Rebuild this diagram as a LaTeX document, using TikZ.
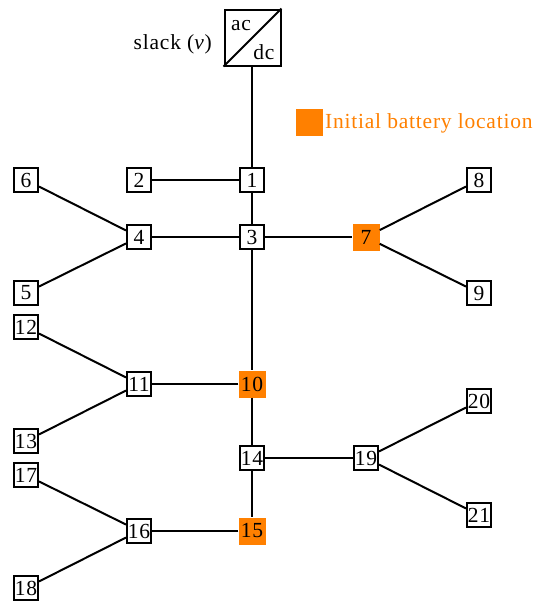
\documentclass[tikz,border=0pt]{standalone}
\usepackage{fontspec}
\setmainfont[LetterSpace=3.6]{Liberation Serif}
\definecolor{batt}{HTML}{FF8000}
\begin{document}
\begin{tikzpicture}[x=1pt,y=-1pt,
  bus/.style={draw=black,line width=2pt,fill=white,minimum size=24pt,inner sep=0pt,font=\fontsize{21.5}{23}\selectfont},
  battbus/.style={fill=batt,minimum size=27pt,inner sep=0pt,font=\fontsize{21.5}{23}\selectfont},
  conv/.style={draw=black,line width=2pt,fill=white,minimum size=56pt,inner sep=0pt},
  lbl/.style={inner sep=0pt,font=\fontsize{21.5}{23}\selectfont},
  wire/.style={draw=black,line width=2pt}]
\useasboundingbox (0,0) rectangle (533,603);
\node[conv] (cv) at (252.5,37.5) {};
\draw[wire] (cv.south west) -- (cv.north east);
\node[lbl] (ac) at (241,25.5) {ac};
\node[lbl] (dc) at (264,52) {dc};
\node[lbl,anchor=east] (slack) at (212,44.5) {slack (\textit{v})};
\node[battbus] (leg) at (309.5,122) {};
\node[lbl,anchor=west,text=batt] (legt) at (325,123.5) {Initial battery location};
\node[bus] (n1) at (252,180) {1};
\node[bus] (n2) at (139,180) {2};
\node[bus] (n3) at (252,237) {3};
\node[bus] (n4) at (139,237) {4};
\node[bus] (n5) at (26,293) {5};
\node[bus] (n6) at (26,180) {6};
\node[battbus] (n7) at (366,237) {7};
\node[bus] (n8) at (479,180) {8};
\node[bus] (n9) at (479,293) {9};
\node[battbus] (n10) at (252,384) {10};
\node[bus] (n11) at (139,384) {11};
\node[bus] (n12) at (26,327) {12};
\node[bus] (n13) at (26,441) {13};
\node[bus] (n14) at (252,458) {14};
\node[battbus] (n15) at (252,531) {15};
\node[bus] (n16) at (139,531) {16};
\node[bus] (n17) at (26,475) {17};
\node[bus] (n18) at (26,588) {18};
\node[bus] (n19) at (366,458) {19};
\node[bus] (n20) at (479,401) {20};
\node[bus] (n21) at (479,515) {21};
\draw[wire] (n1|-cv.south)--(n1);
\draw[wire] (n1)--(n2);
\draw[wire] (n1)--(n3);
\draw[wire] (n3)--(n4);
\draw[wire] (n4)--(n5);
\draw[wire] (n4)--(n6);
\draw[wire] (n3)--(n7);
\draw[wire] (n7)--(n8);
\draw[wire] (n7)--(n9);
\draw[wire] (n3)--(n10);
\draw[wire] (n10)--(n11);
\draw[wire] (n11)--(n12);
\draw[wire] (n11)--(n13);
\draw[wire] (n10)--(n14);
\draw[wire] (n14)--(n15);
\draw[wire] (n14)--(n19);
\draw[wire] (n19)--(n20);
\draw[wire] (n19)--(n21);
\draw[wire] (n15)--(n16);
\draw[wire] (n16)--(n17);
\draw[wire] (n16)--(n18);
\end{tikzpicture}
\end{document}
